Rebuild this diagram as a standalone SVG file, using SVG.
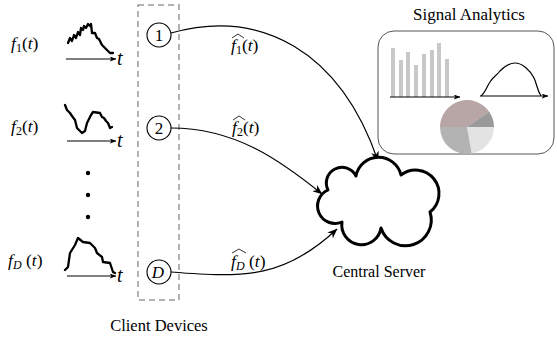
<svg xmlns="http://www.w3.org/2000/svg" width="557" height="346" viewBox="0 0 557 346" font-family="'Liberation Serif', 'Times New Roman', Times, serif">
<style>
text{fill:#000}
.lab{font-size:17.5px}
.it{font-style:italic}
.sub{font-size:12px}
.sig{fill:none;stroke:#000;stroke-width:2.3;stroke-linejoin:round;stroke-linecap:round}
.ax{fill:none;stroke:#000;stroke-width:1}
.con{fill:none;stroke:#000;stroke-width:1.2}
.node{fill:#fff;stroke:#000;stroke-width:1.1}
.hat{fill:none;stroke:#000;stroke-width:0.8}
</style>
<defs>
<marker id="ah" viewBox="0 0 10 8" refX="9.5" refY="4" markerWidth="10" markerHeight="8" markerUnits="userSpaceOnUse" orient="auto">
<path d="M0,0 L10,4 L0,8 L3,4 Z" fill="#000"/>
</marker>
<marker id="sa" viewBox="0 0 8 6" refX="7.5" refY="3" markerWidth="7" markerHeight="5" markerUnits="userSpaceOnUse" orient="auto">
<path d="M0,0 L8,3 L0,6 L2,3 Z" fill="#000"/>
</marker>
</defs>

<g id="signal-1">
<text class="lab" x="11" y="49"><tspan class="it">f</tspan><tspan class="sub" dy="3">1</tspan><tspan dy="-3">(</tspan><tspan class="it">t</tspan>)</text>
<polyline class="sig" points="68,43 70,38 72,41 74,35 76,38 78,32 80,35 81,28 83,30 84,26 86,28 88,24 90,26 91,24 92,33 95,33 97,38 99,39 102,45 106,49 110,53 113,53"/>
<line class="ax" x1="66" y1="59" x2="116" y2="59" marker-end="url(#sa)"/>
<text class="it" x="117" y="65" font-size="20">t</text>
</g>

<g id="signal-2">
<text class="lab" x="11" y="132"><tspan class="it">f</tspan><tspan class="sub" dy="3">2</tspan><tspan dy="-3">(</tspan><tspan class="it">t</tspan>)</text>
<polyline class="sig" points="65,105 67,110 70,113 72,116 75,120 77,128 82,133 85,131 87,123 91,115 93,112 100,113 102,117 104,118 106,121 108,123 110,128 112,127"/>
<line class="ax" x1="67" y1="141" x2="116" y2="141" marker-end="url(#sa)"/>
<text class="it" x="117" y="147" font-size="20">t</text>
</g>

<g id="dots">
<circle cx="88" cy="173" r="2.2" fill="#000"/>
<circle cx="88" cy="195" r="2.2" fill="#000"/>
<circle cx="88" cy="217" r="2.2" fill="#000"/>
</g>

<g id="signal-D">
<text class="lab" x="8" y="266"><tspan class="it">f</tspan><tspan class="it sub" dy="3">D</tspan><tspan dy="-3"> (</tspan><tspan class="it">t</tspan>)</text>
<polyline class="sig" points="65,270 68,267 70,253 75,245 78,238 83,242 90,243 95,248 97,253 102,257 103,262 110,263 113,272 115,273"/>
<line class="ax" x1="67" y1="276" x2="116" y2="276" marker-end="url(#sa)"/>
<text class="it" x="117" y="282" font-size="20">t</text>
</g>

<g id="client-devices">
<rect x="138" y="5" width="41" height="295" fill="none" stroke="#999" stroke-width="1.5" stroke-dasharray="6,4"/>
<text x="159" y="331" font-size="16.5" text-anchor="middle">Client Devices</text>
</g>

<g id="connectors">
<path class="con" d="M171,33 C260,8 340,50 378,161" marker-end="url(#ah)"/>
<path class="con" d="M171,128 C235,128 280,160 322,194" marker-end="url(#ah)"/>
<path class="con" d="M171,272 C245,278 285,278 337,229" marker-end="url(#ah)"/>
<g id="label-1">
<path class="hat" d="M232,38 L238,34 L244,38"/>
<text class="lab" x="231" y="51"><tspan class="it">f</tspan><tspan class="sub" dy="3">1</tspan><tspan dy="-3">(</tspan><tspan class="it">t</tspan>)</text>
</g>
<g id="label-2">
<path class="hat" d="M233,120 L239,116 L245,120"/>
<text class="lab" x="232" y="133"><tspan class="it">f</tspan><tspan class="sub" dy="3">2</tspan><tspan dy="-3">(</tspan><tspan class="it">t</tspan>)</text>
</g>
<g id="label-D">
<path class="hat" d="M232,253 L239,249 L246,253"/>
<text class="lab" x="231" y="267"><tspan class="it">f</tspan><tspan class="it sub" dy="3">D</tspan><tspan dy="-3"> (</tspan><tspan class="it">t</tspan>)</text>
</g>
</g>

<g id="node-1">
<circle class="node" cx="159" cy="35" r="12"/>
<text x="159" y="41" font-size="17" text-anchor="middle">1</text>
</g>
<g id="node-2">
<circle class="node" cx="159" cy="128" r="12"/>
<text x="159" y="134" font-size="17" text-anchor="middle">2</text>
</g>
<g id="node-D">
<circle class="node" cx="159" cy="272" r="12"/>
<text class="it" x="158" y="278" font-size="17" text-anchor="middle">D</text>
</g>

<g id="central-server">
<path d="M342,222 A17 17 0 0 1 328,190 A15 15 0 0 1 356,176 A23 23 0 0 1 401,175 A20 20 0 0 1 430,212 A14 14 0 0 1 381,228 A14 14 0 0 1 342,222 Z" fill="#fff" stroke="#000" stroke-width="3" stroke-linejoin="round"/>
<text x="379" y="277" font-size="16" text-anchor="middle">Central Server</text>
</g>

<g id="signal-analytics">
<text x="469" y="20" font-size="17" text-anchor="middle">Signal Analytics</text>
<rect x="378" y="31" width="176" height="123" rx="16" ry="16" fill="#fff" stroke="#555" stroke-width="1"/>
<g fill="#c8c8c8">
<rect x="391" y="48" width="4" height="49"/>
<rect x="399" y="60" width="4" height="37"/>
<rect x="406" y="52" width="4" height="45"/>
<rect x="414" y="65" width="4" height="32"/>
<rect x="422" y="54" width="4" height="43"/>
<rect x="430" y="50" width="4" height="47"/>
<rect x="437" y="43" width="4" height="54"/>
<rect x="445" y="59" width="4" height="38"/>
</g>
<line x1="390" y1="97" x2="460" y2="97" stroke="#000" stroke-width="1" marker-end="url(#sa)"/>
<line x1="480" y1="96" x2="548" y2="96" stroke="#000" stroke-width="1" marker-end="url(#sa)"/>
<path d="M481,96 C486,92 487,86 490,82 C492,78 496,76 500,71 C505,66 509,63 515,63 C522,63 530,70 534,78 C537,84 537,90 541,96" fill="none" stroke="#000" stroke-width="1.2"/>
<path d="M467,127 L440,127 A27 27 0 0 1 489,111.5 Z" fill="#b8a5a5"/>
<path d="M467,127 L489,111.5 A27 27 0 0 1 494,127 Z" fill="#999999"/>
<path d="M467,127 L494,127 A27 27 0 0 1 471.7,153.6 Z" fill="#e3e3e3"/>
<path d="M467,127 L471.7,153.6 A27 27 0 0 1 440,127 Z" fill="#b3b3b3"/>
</g>
</svg>
